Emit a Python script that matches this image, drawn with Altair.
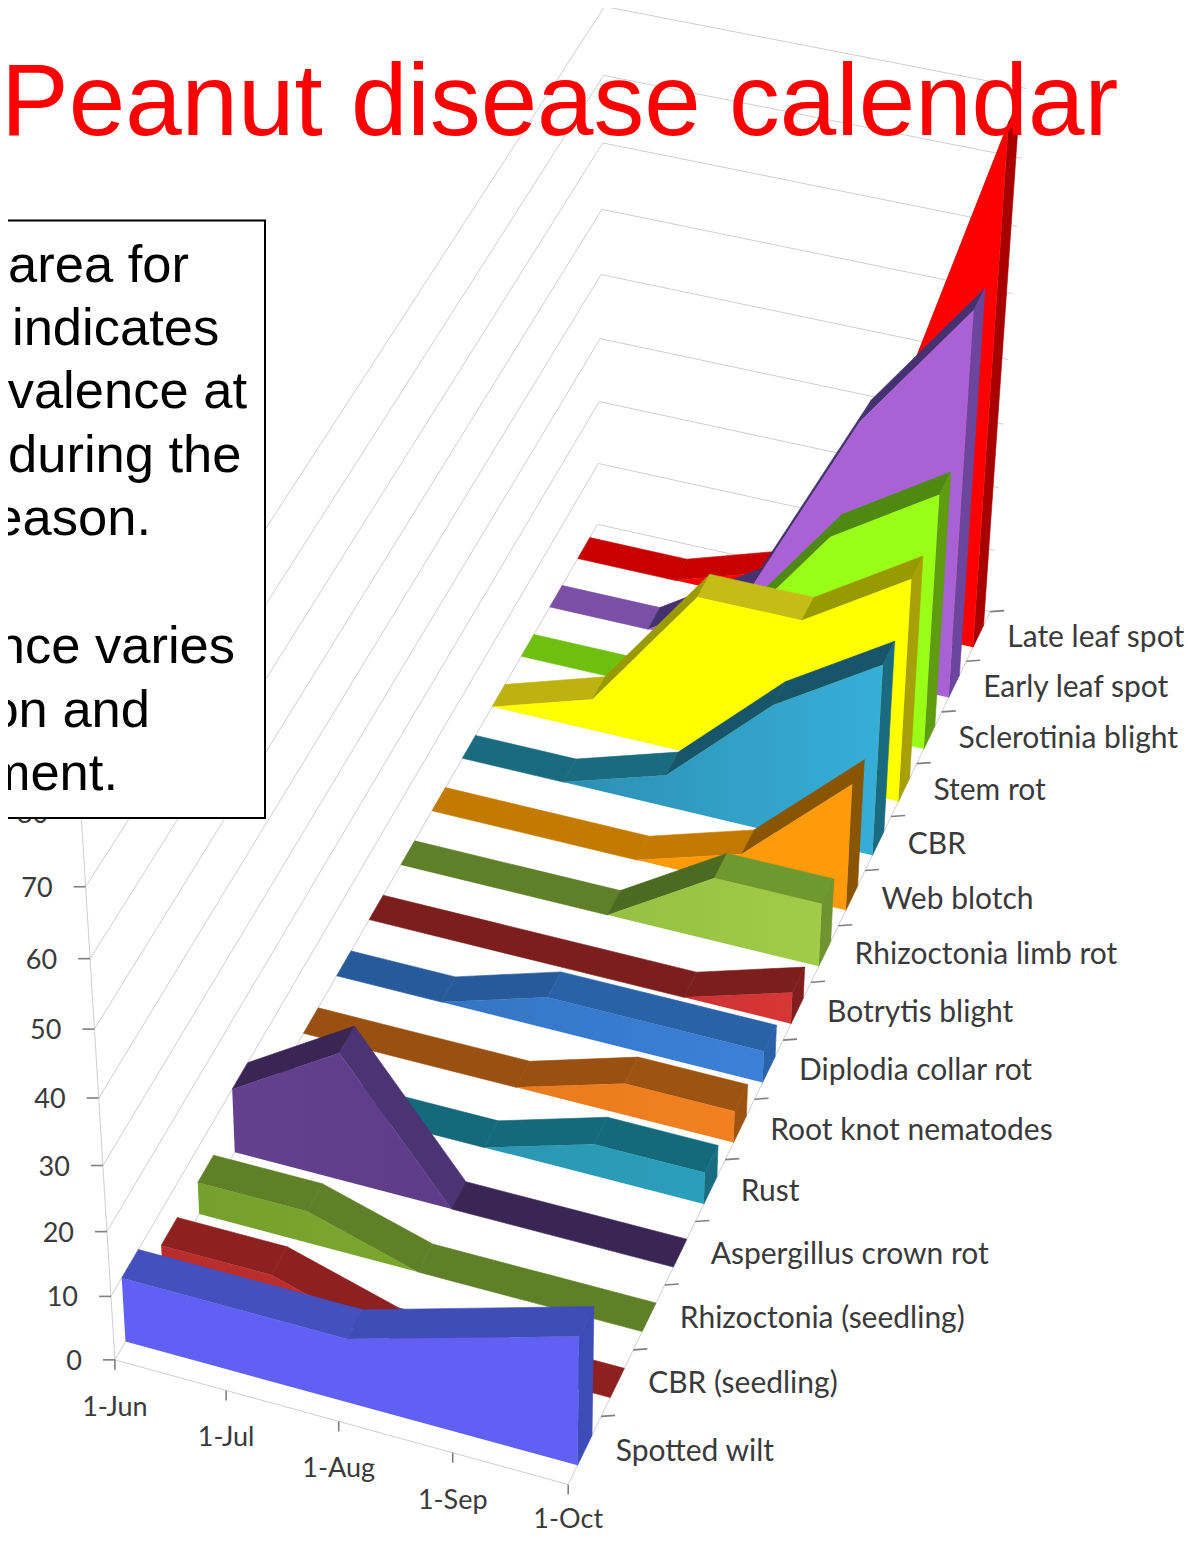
import numpy as np
import pandas as pd
import altair as alt

dates = ["1-Jun", "1-Jul", "1-Aug", "1-Sep", "1-Oct"]
diseases = ["Spotted wilt", "CBR (seedling)", "Rhizoctonia (seedling)", "Aspergillus crown rot",
            "Rust", "Root knot nematodes", "Diplodia collar rot", "Botrytis blight",
            "Rhizoctonia limb rot", "Web blotch", "CBR", "Stem rot",
            "Sclerotinia blight", "Early leaf spot", "Late leaf spot"]
spotted_wilt = [10, 10, 10, 15, 20]
cbr_seedling = [5, 5, 0, 0, 0]
rhizoctonia_seedling = [5, 5, 0, 0, 0]
aspergillus = [10, 20, 0, 0, 0]
rust = [0, 0, 0, 5, 5]
root_knot = [0, 0, 0, 5, 5]
diplodia = [0, 0, 5, 5, 5]
botrytis = [0, 0, 0, 0, 5]
limb_rot = [0, 0, 0, 10, 10]
web_blotch = [0, 0, 0, 5, 20]
cbr = [0, 0, 5, 20, 30]
stem_rot = [0, 5, 25, 25, 35]
sclerotinia = [0, 0, 10, 30, 40]
early_leaf = [0, 0, 10, 40, 60]
late_leaf = [0, 0, 5, 29, 80]
series = [spotted_wilt, cbr_seedling, rhizoctonia_seedling, aspergillus, rust, root_knot, diplodia,
          botrytis, limb_rot, web_blotch, cbr, stem_rot, sclerotinia, early_leaf, late_leaf]
value_ticks = [0, 10, 20, 30, 40, 50, 60, 70, 80]

# front left, front right, side, top rising, top low flat, top high/falling
shades = [
    ("#6060F4", "#6060F4", "#3E4CB8", "#3F4DB8", "#3F4DB8", "#4350BE"),
    ("#B82C2C", "#C83434", "#8E2020", "#8E2020", "#8E2020", "#8E2020"),
    ("#74A02C", "#84AE30", "#5C7C25", "#5C7C25", "#5F8026", "#5F8026"),
    ("#64408F", "#583882", "#3A2655", "#3A2655", "#3A2655", "#4C3374"),
    ("#2A8EA8", "#2A9FBC", "#186E80", "#14697A", "#14697A", "#14697A"),
    ("#E0781C", "#F28020", "#9C5410", "#9C5410", "#9A5010", "#9C5410"),
    ("#3272BC", "#3C80D8", "#2A62A8", "#265A9A", "#265A9A", "#2A62A8"),
    ("#B02828", "#D63636", "#801E1E", "#7C1E1E", "#7C1E1E", "#7C1E1E"),
    ("#8CB53C", "#A0CC48", "#6E9430", "#4C6A22", "#5F8028", "#6E9830"),
    ("#FF9A0A", "#FF9A0A", "#8A5500", "#8A5500", "#C47A00", "#C47A00"),
    ("#2A86A8", "#36AED8", "#1A6B80", "#17566A", "#1A6B80", "#1A6B80"),
    ("#FFFF00", "#FFFF00", "#A8A008", "#999900", "#BDB20F", "#C6BC16"),
    ("#99FF16", "#99FF16", "#5E9C10", "#4F8A10", "#6FBF10", "#6FBF10"),
    ("#A862D6", "#A862D6", "#6C469C", "#45316F", "#7B4FA5", "#7B4FA5"),
    ("#FF0000", "#FF0000", "#A80000", "#C00000", "#C80000", "#C00000"),
]

# camera calibration: (date, depth, value) -> picture position
cal = [
    (0,0,0,115,1360),(1,0,0,226,1390),(2,0,0,339,1421),(3,0,0,454,1453),(4,0,0,570,1484),
    (0,0,10,111,1296),(0,0,20,107,1230),(0,0,30,103,1164),(0,0,40,99,1098),(0,0,50,95,1028),
    (0,0,60,90,958),(0,0,70,85,885),(0,0,80,80,812),
    (4,1,0,595,1418),(4,2,0,625,1352),(4,3,0,654,1287),(4,14,0,963,661),(4,15,0,990,611),
    (4,15,10,995,551),(4,15,20,1000,488),(4,15,30,1005,425),(4,15,40,1008,360),(4,15,50,1013,295),
    (4,15,60,1018,227),(4,15,70,1023,159),
    (0,15,0,597,525),(0,15,10,597,463),(0,15,20,598,401),(0,15,30,599,340),(0,15,40,600,275),
    (0,15,50,601,210),(0,15,60,603,143),(0,15,70,603,75),(0,15,80,603,6),
    (0,.28,0,126,1343),(0,14.28,0,580,557),(4,14.28,0,973,645),(0,7.28,0,371,918),(4,7.28,0,793,1021),
    (4,.28,0,581,1464),(4,.72,0,594,1436),(4,.72,20,595,1309),(4,.28,20,583,1335),
    (0,.28,10,123,1279),(0,.72,10,137,1254),(4,13.28,0,952,695),(4,13.28,60,974,311),
    (4,3.28,0,674,1265),(1,3.28,20,341,1054),(1,3.72,20,354,1029),(0,3.28,10,233,1089),
    (0,2.28,0,201,1215),(4,2.28,0,645,1329),
]
weights = np.ones(len(cal))
for _ in range(25):
    A, b = [], []
    for wgt, (t, d, v, u, w) in zip(weights, cal):
        A.append(np.array([t, d, v, 1, 0, 0, 0, 0, -u*t, -u*d, -u*v]) / wgt); b.append(u / wgt)
        A.append(np.array([0, 0, 0, 0, t, d, v, 1, -w*t, -w*d, -w*v]) / wgt); b.append(w / wgt)
    p = np.linalg.lstsq(np.array(A, float), np.array(b, float), rcond=None)[0]
    P = np.append(p, 1.0).reshape(3, 4)
    weights = np.array([P[2] @ np.array([t, d, v, 1.0]) for t, d, v, _u, _w in cal])


def proj(t, d, v):
    q = P @ np.array([t, d, v, 1.0])
    return float(q[0] / q[2]), float(q[1] / q[2])


W, H = 1177, 1526
X = alt.X("x:Q", scale=alt.Scale(domain=[8, 8 + W], nice=False, zero=False), axis=None)
Y = alt.Y("y:Q", scale=alt.Scale(domain=[8 + H, 8], nice=False, zero=False), axis=None)

D0, D1 = 0.28, 0.72


def poly_rows(points, pid, color):
    out = []
    for k, (t, d, v) in enumerate(points):
        x, y = proj(t, d, v)
        out.append(dict(x=x, y=y, poly=pid, k=k, col=color))
    return out


disease_layers = []
for i in range(14, -1, -1):
    vals = series[i]
    f0, f1, side, rise, flat, high = shades[i]
    a, b_ = i + D0, i + D1
    rows, pid, t = [], 0, 0
    while t < 4:
        dv = vals[t + 1] - vals[t]
        if dv > 5:
            c = rise
        elif dv < 0 or (dv == 0 and vals[t] > 0):
            c = high
        else:
            c = flat
        e = t + 1
        while e < 4 and vals[e + 1] - vals[e] == dv:
            e += 1
        ts = range(t, e + 1)
        rows += poly_rows([(s, a, vals[s]) for s in ts] + [(s, b_, vals[s]) for s in reversed(ts)], pid, c)
        pid += 1
        t = e
    if vals[4] > 0:
        rows += poly_rows([(4, a, 0), (4, a, vals[4]), (4, b_, vals[4]), (4, b_, 0)], pid, side)
    disease_layers.append(
        alt.Chart(pd.DataFrame(rows)).mark_line(interpolate="linear-closed", strokeWidth=0.6).encode(
            x=X, y=Y, detail="poly:N", order="k:Q",
            fill=alt.Fill("col:N", scale=None), stroke=alt.Stroke("col:N", scale=None)))
    front_rows = poly_rows([(t, a, vals[t]) for t in range(5)] + [(4, a, 0), (0, a, 0)], 0, f0)
    disease_layers.append(
        alt.Chart(pd.DataFrame(front_rows)).mark_line(
            interpolate="linear-closed", strokeWidth=0,
            fill=alt.Gradient(gradient="linear", x1=0, y1=0.5, x2=1, y2=0.5,
                              stops=[alt.GradientStop(offset=0, color=f0), alt.GradientStop(offset=1, color=f1)])
        ).encode(x=X, y=Y, order="k:Q"))

grid, ticks = [], []
for v in value_ticks:
    x0, y0 = proj(0, 0, v); x1, y1 = proj(0, 15, v); x2, y2 = proj(4, 15, v)
    grid.append(dict(x=x0, y=y0, x2=x1, y2=y1))
    grid.append(dict(x=x1, y=y1, x2=x2, y2=y2))
    ticks.append(dict(x=x0 - 12, y=y0, x2=x0, y2=y0))
for a_, b2 in [((0, 0, 0), (4, 0, 0)), ((4, 0, 0), (4, 15, 0)), ((0, 0, 0), (0, 0, 80))]:
    x0, y0 = proj(*a_); x1, y1 = proj(*b2)
    grid.append(dict(x=x0, y=y0, x2=x1, y2=y1))
for t in range(5):
    x0, y0 = proj(t, 0, 0)
    ticks.append(dict(x=x0, y=y0, x2=x0, y2=y0 + 10))
for i in range(1, 16):
    x0, y0 = proj(4, i, 0)
    ticks.append(dict(x=x0, y=y0, x2=x0 + 14, y2=y0 - 1))

labels_vals = [dict(x=proj(0, 0, v)[0] - 33, y=proj(0, 0, v)[1] + 2, s=str(v)) for v in value_ticks]
labels_dates = [dict(x=proj(t, 0, 0)[0], y=min(proj(t, 0, 0)[1] + 48, 1520), s=dates[t]) for t in range(5)]
labels_cat = [dict(x=proj(4, i + .5, 0)[0] + 31 - 2 * i / 14, y=proj(4, i + .5, 0)[1] + 1.5, s=diseases[i])
              for i in range(15)]


def seg(df, color, width):
    return alt.Chart(pd.DataFrame(df)).mark_rule(color=color, strokeWidth=width).encode(
        x=X, y=Y, x2="x2:Q", y2="y2:Q")


def txt(df, size, font="Lato", color="#3A3A3A", align="left", baseline="middle"):
    return alt.Chart(pd.DataFrame(df)).mark_text(fontSize=size, font=font, color=color, align=align,
                                                 baseline=baseline).encode(x=X, y=Y, text="s:N")


box = alt.Chart(pd.DataFrame([dict(x=-40, x2=265, y=220.5, y2=818)])).mark_rect(
    fill="white", stroke="black", strokeWidth=2).encode(x=X, x2="x2:Q", y=Y, y2="y2:Q")

box_left = [dict(x=8, y=282, s="area for"), dict(x=12, y=345, s="indicates"), dict(x=8, y=472, s="during the")]
box_right = [dict(x=247, y=408, s="valence at"), dict(x=151, y=535, s="eason."), dict(x=235, y=663, s="nce varies"),
             dict(x=150, y=727, s="on and"), dict(x=118, y=790, s="ment.")]

chart = alt.layer(
    seg(grid, "#CFCFCF", 1),
    seg(ticks, "#7F7F7F", 1.6),
    *disease_layers,
    txt(labels_vals, 27, align="right"),
    txt(labels_dates, 27, align="center"),
    txt(labels_cat, 30),
    box,
    txt(box_left, 52.5, font="Liberation Sans", color="black", baseline="alphabetic"),
    txt(box_right, 52.5, font="Liberation Sans", color="black", align="right", baseline="alphabetic"),
    txt([dict(x=1, y=135, s="Peanut disease calendar")], 101.5, font="Liberation Sans", color="#FF0000",
        baseline="alphabetic"),
).properties(width=W, height=H, padding=0, autosize=alt.AutoSizeParams(type="none")).configure_view(stroke=None)

chart.save("out.html", embed_options={"renderer": "svg", "actions": False})
